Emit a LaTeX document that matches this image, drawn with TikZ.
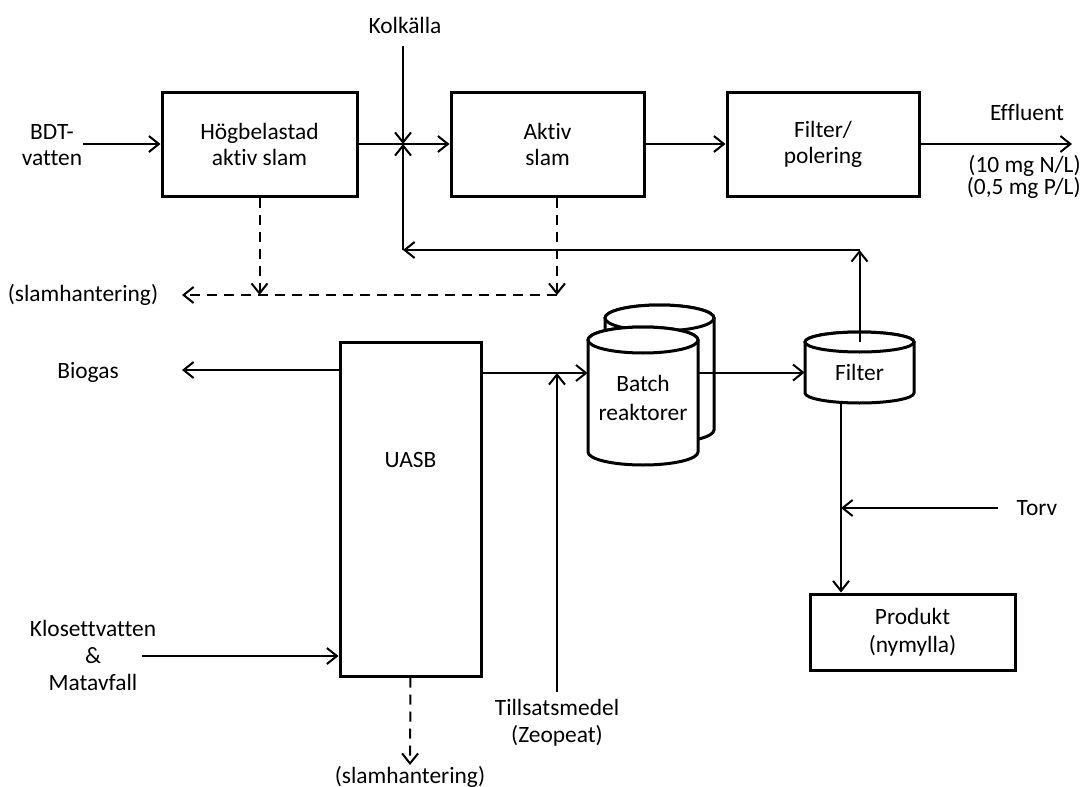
\documentclass[tikz,border=0pt]{standalone}
\usepackage{fontspec}
\setmainfont[Ligatures=NoCommon]{Carlito}
\usetikzlibrary{arrows.meta}

% tank: centre x, top y, bottom y, half width, half height of the ends (px)
\newcommand{\tank}[5]{%
  \filldraw[tankline] ({#1-#4},#2) -- ({#1-#4},#3)
    arc[start angle=180,end angle=360,x radius=#4*0.5pt,y radius=#5*0.5pt]
    -- ({#1+#4},#2)
    arc[start angle=0,end angle=180,x radius=#4*0.5pt,y radius=#5*0.5pt] -- cycle;
  \draw[tankline] (#1,#2) ellipse[x radius=#4*0.5pt,y radius=#5*0.5pt];
}

\begin{document}
\begin{tikzpicture}[x=0.5pt,y=-0.5pt,>={Straight Barb[length=5pt,width=8pt]},
  every node/.style={font=\fontsize{11.7}{13}\selectfont},
  box/.style={draw,line width=1.5pt,minimum width=#1,minimum height=52pt,align=center,inner sep=2pt},
  lbl/.style={align=center,inner sep=0pt},
  flow/.style={->,line width=1pt},
  sludge/.style={->,line width=1pt,dash pattern=on 5pt off 3.5pt},
  tankline/.style={line width=1.5pt,fill=white}]
  \useasboundingbox (0,0) rectangle (1083,787);

  % upper line
  \node[box=97.5pt] (hog) at (259.5,144) {Högbelastad\\aktiv slam};
  \node[box=96.5pt] (aktiv) at (547.5,144) {Aktiv\\slam};
  \node[box=96pt] (pol) at (823,144) {Filter/\\polering};
  \node[lbl] (kol) at (405,25) {Kolkälla};
  \node[lbl] (bdt) at (52,145) {BDT-\\vatten};
  \node[lbl] (eff) at (1027,112) {Effluent};
  \node[lbl,align=right,anchor=east,font=\fontsize{11.7}{11}\selectfont] (conc) at (1081,177) {(10 mg N/L)\\(0,5 mg P/L)};
  \node[lbl] (slam1) at (83,295) {(slamhantering)};

  % lower line
  \node[box=70.5pt,minimum height=167pt,text depth=49pt] (uasb) at (410.5,509) {UASB};
  \tank{659.5}{318}{430}{54.5}{13}
  \tank{643}{340}{452}{55}{13}
  \tank{859.5}{342}{393}{54.5}{10}
  \node[lbl,minimum width=55pt,minimum height=67.5pt,font=\fontsize{11.7}{14.5}\selectfont] (batch) at (643,397.5) {Batch\\reaktorer};
  \node[lbl,minimum width=54.5pt,minimum height=30.5pt] (filt) at (859.5,372.5) {Filter};
  \node[box=102.5pt,minimum height=38pt,font=\fontsize{11.7}{14}\selectfont] (prod) at (912.5,632) {Produkt\\(nymylla)};
  \node[lbl] (bio) at (88,372) {Biogas};
  \node[lbl,font=\fontsize{11.7}{13.5}\selectfont] (klo) at (93,655) {Klosettvatten\\\&\\Matavfall};
  \node[lbl] (slam2) at (410,777) {(slamhantering)};
  \node[lbl,font=\fontsize{11.7}{13.5}\selectfont] (tills) at (557,723) {Tillsatsmedel\\(Zeopeat)};
  \node[lbl] (torv) at (1037,508) {Torv};

  \coordinate (mix) at (403,144);
  \coordinate (ret) at (403,250);
  \coordinate (retr) at (filt.north |- ret);
  \coordinate (effend) at (1072,144);
  \coordinate (sl) at (557,295);
  \coordinate (s1end) at (182,295);
  \coordinate (bioend) at (182,370);
  \coordinate (kloin) at (142,656);
  \coordinate (s2end) at (410,765);
  \coordinate (zin) at (557,373);
  \coordinate (tv) at (841,508);
  \coordinate (torvin) at (998,508);

  \draw[flow] (bdt.east |- hog) -- (hog);
  \draw[flow] (hog) -- (aktiv);
  \draw[flow] (aktiv) -- (pol);
  \draw[flow] (pol) -- (effend);
  \draw[flow,shorten <=6pt] (kol.south -| mix) -- (mix);
  \draw[flow] (filt.north) -- (retr);
  \draw[flow] (retr) -- (ret);
  \draw[flow] (ret) -- (mix);
  \draw[sludge] (hog.south) -- (hog.south |- sl);
  \draw[sludge] (aktiv.south -| sl) -- (sl);
  \draw[sludge] (sl) -- (s1end);

  \draw[flow] (uasb.west |- bioend) -- (bioend);
  \draw[flow] (kloin) -- (uasb.west |- kloin);
  \draw[sludge] (uasb.south) -- (s2end);
  \draw[flow] (uasb.east |- zin) -- (batch.west |- zin);
  \draw[flow,shorten <=3.5pt] (tills.north) -- (zin);
  \draw[flow] (batch.east |- filt) -- (filt.west);
  \draw[flow] (filt.south -| tv) -- (prod.north -| tv);
  \draw[flow] (torvin) -- (tv);
\end{tikzpicture}
\end{document}
